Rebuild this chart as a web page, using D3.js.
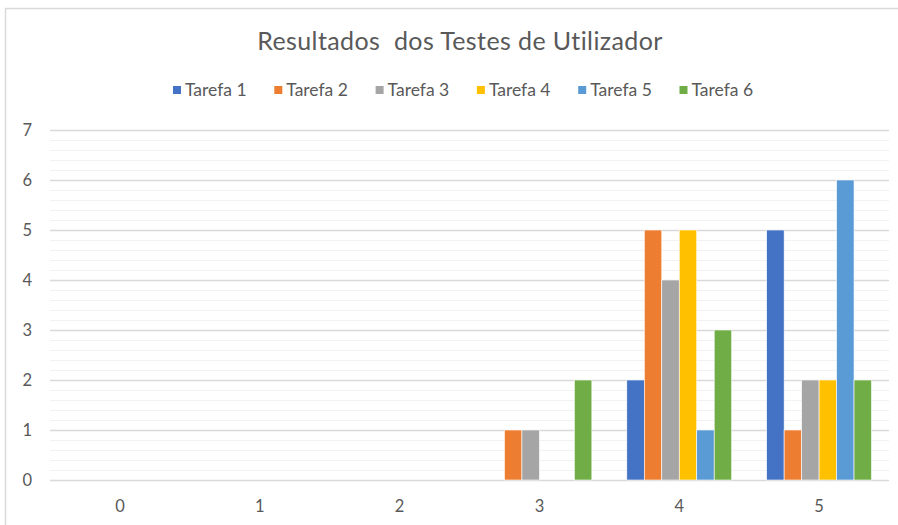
<!DOCTYPE html>
<html>
<head>
<meta charset="utf-8">
<script src="https://cdn.jsdelivr.net/npm/d3@7"></script>
<style>
  html, body { margin: 0; padding: 0; background: #fff; }
  svg { display: block; }
  text { font-family: Lato, "Open Sans", sans-serif; fill: #595959; }
</style>
</head>
<body>
<svg id="chart" width="898" height="525"></svg>
<script>
// Respostas por tarefa: quantos utilizadores deram cada pontuação (0–5)
const categories = ["0", "1", "2", "3", "4", "5"];
const series = ["Tarefa 1", "Tarefa 2", "Tarefa 3", "Tarefa 4", "Tarefa 5", "Tarefa 6"];
const tarefa1 = [0, 0, 0, 0, 2, 5];
const tarefa2 = [0, 0, 0, 1, 5, 1];
const tarefa3 = [0, 0, 0, 1, 4, 2];
const tarefa4 = [0, 0, 0, 0, 5, 2];
const tarefa5 = [0, 0, 0, 0, 1, 6];
const tarefa6 = [0, 0, 0, 2, 3, 2];
const yTicks = [0, 1, 2, 3, 4, 5, 6, 7];
const colors = ["#4472C4", "#ED7D31", "#A5A5A5", "#FFC000", "#5B9BD5", "#70AD47"];
const title = "Resultados  dos Testes de Utilizador";

const values = [tarefa1, tarefa2, tarefa3, tarefa4, tarefa5, tarefa6];

const svg = d3.select("#chart");
const W = 898, H = 525;
const plot = { left: 50, right: 889, top: 130, bottom: 480 };

// Moldura do gráfico
svg.append("line").attr("x1", 5.5).attr("x2", 5.5).attr("y1", 8.5).attr("y2", H)
  .attr("stroke", "#d9d9d9").attr("stroke-width", 1.5);
svg.append("line").attr("x1", 5).attr("x2", W).attr("y1", 8.5).attr("y2", 8.5)
  .attr("stroke", "#d9d9d9").attr("stroke-width", 1.5);

const x0 = d3.scaleBand().domain(categories).range([plot.left, plot.right]).paddingInner(0.25).paddingOuter(0.125);
const x1 = d3.scaleBand().domain(series).range([0, x0.bandwidth()]);
const y = d3.scaleLinear().domain([0, 7]).range([plot.bottom, plot.top]);

// Linhas de grelha secundárias (0,2 em 0,2)
const minor = d3.range(0, 35).map(i => i / 5).filter(v => !Number.isInteger(v));
svg.append("g").selectAll("line").data(minor).join("line")
  .attr("x1", plot.left).attr("x2", plot.right)
  .attr("y1", d => Math.round(y(d)) + 0.5).attr("y2", d => Math.round(y(d)) + 0.5)
  .attr("stroke", "#f2f2f2").attr("stroke-width", 1.2);

// Linhas de grelha principais
svg.append("g").selectAll("line").data(yTicks).join("line")
  .attr("x1", plot.left).attr("x2", plot.right)
  .attr("y1", d => Math.round(y(d)) + 0.5).attr("y2", d => Math.round(y(d)) + 0.5)
  .attr("stroke", "#d9d9d9").attr("stroke-width", 1.3);

// Eixo Y
const yAxis = svg.append("g").attr("transform", `translate(${plot.left},0)`)
  .call(d3.axisLeft(y).tickValues(yTicks).tickSize(0).tickPadding(18).tickFormat(d3.format("d")));
yAxis.select(".domain").remove();
yAxis.selectAll("text").style("font-size", "16.5px").attr("fill", "#595959");

// Eixo X
const xAxis = svg.append("g").attr("transform", `translate(0,${plot.bottom})`)
  .call(d3.axisBottom(d3.scaleBand().domain(categories).range([plot.left, plot.right])).tickSize(0).tickPadding(20));
xAxis.select(".domain").remove();
xAxis.selectAll("text").style("font-size", "16.5px").attr("fill", "#595959");

// Barras agrupadas
const groups = svg.append("g").selectAll("g").data(categories).join("g")
  .attr("transform", d => `translate(${x0(d)},0)`);
groups.selectAll("rect")
  .data((c, ci) => series.map((s, si) => ({ s, si, v: values[si][ci] })).filter(d => d.v > 0))
  .join("rect")
  .attr("x", d => x1(d.s))
  .attr("width", x1.bandwidth())
  .attr("y", d => y(d.v))
  .attr("height", d => y(0) - y(d.v))
  .attr("fill", d => colors[d.si])
  .attr("stroke", "#ffffff").attr("stroke-width", 0.6);

// Título
svg.append("text").attr("x", 460).attr("y", 50).attr("text-anchor", "middle")
  .style("font-size", "25px").style("letter-spacing", "0.4px").style("white-space", "pre").text(title);

// Legenda
const legend = svg.append("g").selectAll("g").data(series).join("g")
  .attr("transform", (d, i) => `translate(${173 + i * 101.3},0)`);
legend.append("rect").attr("x", 0).attr("y", 86).attr("width", 8).attr("height", 8)
  .attr("fill", (d, i) => colors[i]);
legend.append("text").attr("x", 12).attr("y", 95.5).style("font-size", "17.5px").text(d => d);
</script>
</body>
</html>
